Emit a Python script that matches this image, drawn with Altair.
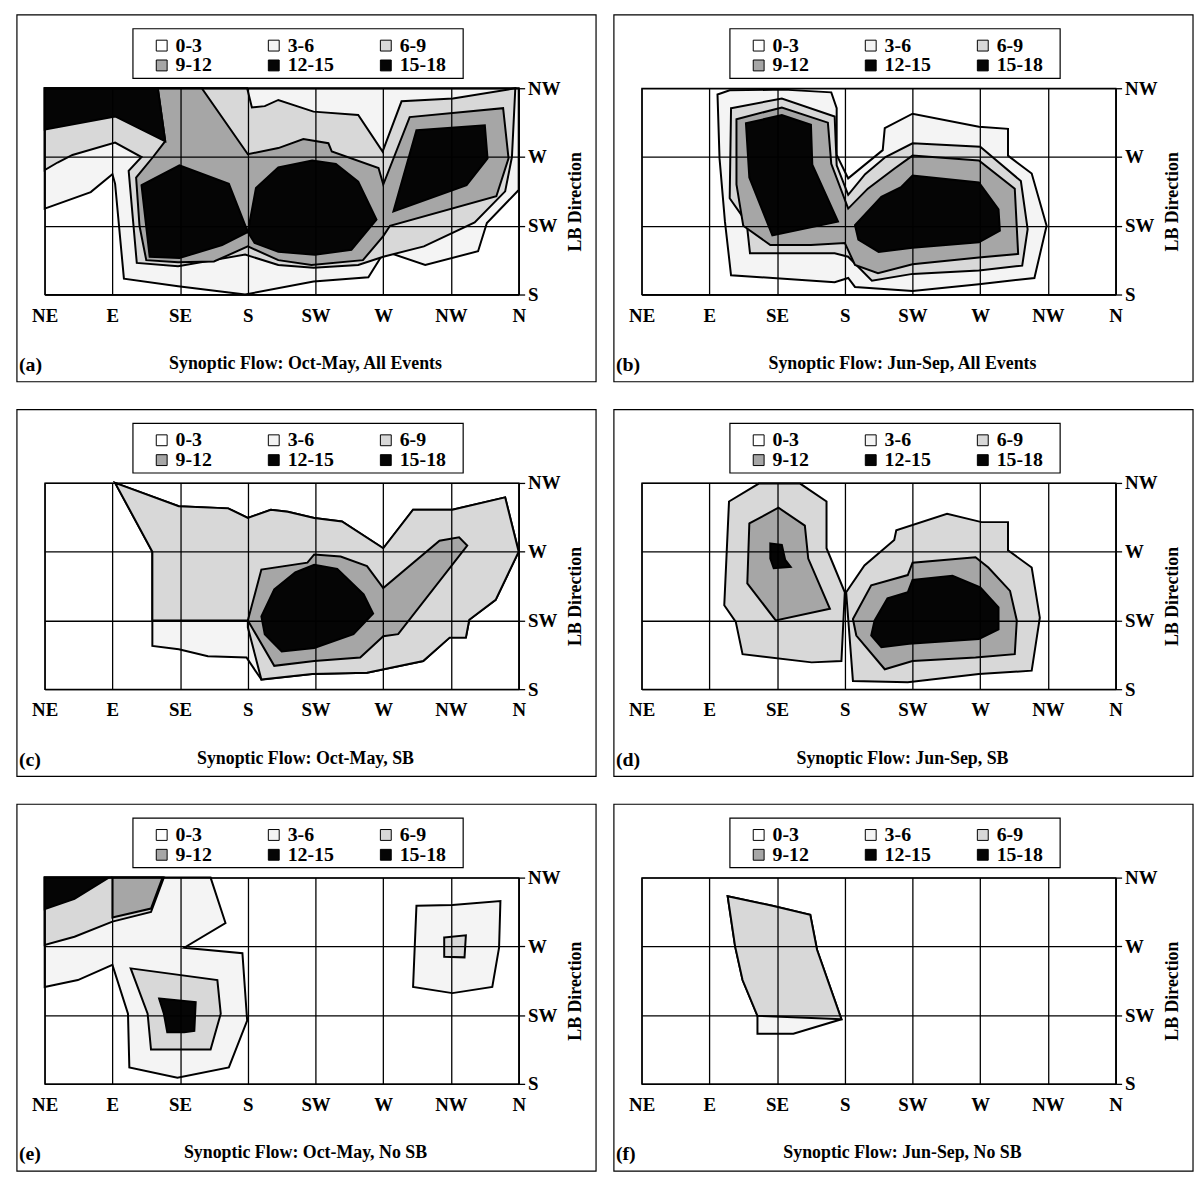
import json
import altair as alt
import pandas as pd

# ---------------- data ----------------
X_LABELS = ["NE", "E", "SE", "S", "SW", "W", "NW", "N"]
Y_LABELS = ["S", "SW", "W", "NW"]
BANDS = ["0-3", "3-6", "6-9", "9-12", "12-15", "15-18"]
BAND_COLORS = ["#ffffff", "#f4f4f4", "#d8d8d8", "#a6a6a6", "#050505", "#050505"]
LEVEL_BAND = {3: "3-6", 6: "6-9", 9: "9-12", 12: "12-15", 15: "15-18"}

TAGS = ["(a)", "(b)", "(c)", "(d)", "(e)", "(f)"]
SUBTITLES = [
    "Synoptic Flow: Oct-May, All Events",
    "Synoptic Flow: Jun-Sep, All Events",
    "Synoptic Flow: Oct-May, SB",
    "Synoptic Flow: Jun-Sep, SB",
    "Synoptic Flow: Oct-May, No SB",
    "Synoptic Flow: Jun-Sep, No SB",
]

# contour polygons (x: 0=NE .. 7=N, y: 0=S .. 3=NW)
A3 = [(0, 3), (7, 3), (7, 1.52), (6.53, 1.04), (6.4, 0.63), (5.62, 0.43), (5.02, 0.63), (4.78, 0.25),
      (3.97, 0.19), (2.96, 0.0), (1.97, 0.12), (1.17, 0.23), (1.04, 1.61), (1.0, 1.75), (0.68, 1.49), (0, 1.25)]
A6 = [(0, 3), (2.99, 3), (3.06, 2.72), (3.25, 2.74), (3.45, 2.83), (3.97, 2.66), (4.63, 2.61), (4.99, 2.08),
      (5.27, 2.81), (6.03, 2.85), (6.95, 3.0), (6.9, 2.0), (6.8, 1.5), (6.35, 1.05), (5.6, 0.7), (5.0, 0.55),
      (4.63, 0.43), (3.97, 0.39), (3.45, 0.43), (2.96, 0.58), (1.97, 0.41), (1.36, 0.46), (1.24, 1.80),
      (1.43, 2.0), (1.04, 2.21), (0.41, 2.03), (0.19, 1.92), (0, 1.81)]
A9 = [(1.67, 3), (2.32, 3), (3.0, 2.04), (3.45, 2.13), (3.82, 2.26), (4.19, 2.2), (4.24, 2.08), (4.93, 1.84),
      (5.0, 1.6), (5.39, 2.58), (6.77, 2.71), (6.85, 1.98), (6.67, 1.43), (5.1, 1.0), (5.0, 0.85), (4.7, 0.5),
      (3.94, 0.43), (3.45, 0.5), (3.0, 0.7), (2.5, 0.48), (1.97, 0.47), (1.5, 0.5), (1.4, 1.0), (1.35, 1.7),
      (1.6, 2.0), (1.78, 2.23)]
A12a = [(0, 3), (1.67, 3), (1.78, 2.23), (1.04, 2.59), (0, 2.40)]
A12b = [(1.43, 1.59), (1.99, 1.88), (2.72, 1.61), (3.0, 0.91), (2.62, 0.72), (1.99, 0.53), (1.55, 0.55)]
A12c = [(3.0, 0.91), (3.12, 1.55), (3.45, 1.85), (3.95, 1.95), (4.3, 1.9), (4.63, 1.64), (4.9, 1.09),
        (4.53, 0.65), (3.99, 0.58), (3.45, 0.62), (3.1, 0.75)]
A12d = [(5.49, 2.39), (6.5, 2.46), (6.54, 1.98), (6.23, 1.59), (5.15, 1.21)]

B3 = [(1.12, 2.91), (1.3, 2.97), (2.1, 2.98), (2.8, 2.94), (2.88, 2.71), (2.88, 2.03), (3.05, 1.69), (3.56, 2.1),
      (3.59, 2.42), (4.0, 2.63), (4.98, 2.44), (5.41, 2.41), (5.41, 2.02), (5.76, 1.76), (5.98, 1.0), (5.8, 0.24),
      (4.98, 0.15), (4.0, 0.05), (3.15, 0.11), (3.05, 0.24), (2.85, 0.18), (1.32, 0.28), (1.23, 1.06), (1.15, 1.98)]
B6 = [(1.32, 2.71), (2.07, 2.85), (2.85, 2.59), (2.88, 1.88), (3.05, 1.45), (3.3, 1.75), (3.6, 2.0), (4.0, 2.2),
      (5.0, 2.15), (5.6, 1.65), (5.7, 0.95), (5.62, 0.42), (4.98, 0.35), (4.0, 0.3), (3.4, 0.2), (3.05, 0.55),
      (2.85, 0.6), (1.6, 0.6), (1.55, 1.05), (1.3, 1.4)]
B9 = [(1.4, 2.55), (2.07, 2.72), (2.75, 2.5), (2.8, 1.9), (3.05, 1.25), (3.34, 1.54), (3.73, 1.83), (4.0, 2.02),
      (4.98, 1.95), (5.51, 1.54), (5.56, 0.59), (4.98, 0.54), (4.0, 0.44), (3.49, 0.31), (3.15, 0.43), (3.0, 0.75),
      (2.5, 0.72), (1.9, 0.72), (1.5, 1.0), (1.4, 1.6)]
B12a = [(1.54, 2.49), (2.07, 2.61), (2.5, 2.47), (2.52, 1.89), (2.9, 1.06), (1.93, 0.86), (1.59, 1.7)]
B12b = [(3.15, 1.01), (3.54, 1.42), (3.83, 1.56), (4.0, 1.73), (4.98, 1.63), (5.27, 1.24), (5.29, 0.93),
        (4.98, 0.76), (4.0, 0.68), (3.5, 0.62), (3.2, 0.8)]

C3 = [(1.04, 3.0), (1.98, 2.66), (2.71, 2.63), (3.0, 2.49), (3.34, 2.61), (3.59, 2.58), (3.98, 2.49), (4.39, 2.44),
      (5.0, 2.05), (5.44, 2.61), (6.02, 2.61), (6.8, 2.79), (7.0, 2.0), (6.66, 1.30), (6.27, 1.01), (6.22, 0.75),
      (5.98, 0.75), (5.59, 0.41), (4.76, 0.24), (3.95, 0.22), (3.2, 0.14), (2.98, 0.46), (2.41, 0.48),
      (1.98, 0.58), (1.59, 0.63), (1.59, 2.0)]
C6 = [(1.04, 3.0), (1.98, 2.66), (2.71, 2.63), (3.0, 2.49), (3.34, 2.61), (3.59, 2.58), (3.98, 2.49), (4.39, 2.44),
      (5.0, 2.05), (5.44, 2.61), (6.02, 2.61), (6.8, 2.79), (7.0, 2.0), (6.66, 1.30), (6.27, 1.01), (6.22, 0.75),
      (5.98, 0.75), (5.59, 0.41), (4.76, 0.24), (3.95, 0.22), (3.2, 0.14), (3.0, 0.9), (3.0, 1.0), (1.59, 1.0),
      (1.59, 2.0)]
C9 = [(3.0, 1.0), (3.2, 1.74), (3.88, 1.84), (3.98, 1.96), (4.37, 1.93), (4.76, 1.79), (5.0, 1.47), (5.83, 2.16),
      (6.12, 2.21), (6.24, 2.09), (5.22, 0.8), (5.0, 0.77), (4.66, 0.46), (3.98, 0.41), (3.39, 0.34)]
C12 = [(3.2, 1.06), (3.39, 1.45), (3.7, 1.7), (3.98, 1.81), (4.32, 1.75), (4.71, 1.38), (4.85, 1.1), (4.56, 0.8),
       (3.98, 0.6), (3.5, 0.55), (3.25, 0.8)]

D6a = [(1.29, 2.73), (1.73, 2.99), (2.34, 2.99), (2.73, 2.73), (2.73, 2.05), (3.0, 1.41), (2.95, 0.41),
       (2.51, 0.39), (1.49, 0.51), (1.39, 0.98), (1.22, 1.22)]
D6b = [(3.02, 1.41), (3.29, 1.8), (3.73, 2.17), (3.76, 2.31), (4.51, 2.55), (5.02, 2.43), (5.41, 2.43),
       (5.41, 2.02), (5.76, 1.77), (5.88, 1.04), (5.76, 0.27), (4.98, 0.22), (3.93, 0.1), (3.12, 0.12)]
D9a = [(1.59, 2.41), (2.02, 2.64), (2.41, 2.38), (2.46, 1.9), (2.78, 1.17), (1.98, 1.0), (1.56, 1.54)]
D9b = [(3.12, 1.02), (3.39, 1.51), (3.93, 1.66), (4.0, 1.84), (4.93, 1.92), (5.12, 1.77), (5.44, 1.43),
       (5.54, 1.0), (5.51, 0.51), (4.93, 0.46), (4.0, 0.41), (3.59, 0.29), (3.17, 0.78)]
D12a = [(1.9, 2.12), (2.07, 2.1), (2.12, 1.88), (2.2, 1.78), (1.95, 1.76), (1.9, 1.9)]
D12b = [(3.44, 1.0), (3.63, 1.32), (3.93, 1.41), (4.0, 1.59), (4.59, 1.65), (5.0, 1.48), (5.27, 1.19),
        (5.27, 0.87), (4.98, 0.73), (3.95, 0.66), (3.54, 0.61), (3.39, 0.78)]

E3a = [(0, 3), (2.45, 3.0), (2.67, 2.34), (2.06, 1.98), (2.92, 1.9), (2.99, 0.92), (2.72, 0.24), (1.96, 0.09),
       (1.25, 0.24), (1.23, 1.02), (1.0, 1.73), (0.49, 1.51), (0, 1.41)]
E3b = [(5.49, 2.59), (6.02, 2.6), (6.73, 2.66), (6.71, 1.98), (6.61, 1.41), (6.02, 1.32), (5.44, 1.41)]
E6a = [(0, 3), (1.76, 3.0), (1.57, 2.5), (1.0, 2.36), (0.44, 2.14), (0, 2.02)]
E6b = [(1.27, 1.68), (2.55, 1.51), (2.6, 1.02), (2.45, 0.5), (1.57, 0.5), (1.52, 1.02)]
E6c = [(5.9, 2.13), (6.22, 2.16), (6.2, 1.84), (5.9, 1.85)]
E9 = [(1.0, 3.0), (1.74, 3.0), (1.57, 2.55), (1.0, 2.42)]
E12a = [(0, 3), (0.95, 3.0), (0.44, 2.69), (0, 2.54)]
E12b = [(1.69, 1.24), (2.23, 1.19), (2.21, 0.77), (2.06, 0.75), (1.81, 0.75), (1.76, 1.02)]

F3 = [(1.27, 2.73), (1.93, 2.59), (2.49, 2.46), (2.59, 1.95), (2.95, 0.94), (2.24, 0.73), (1.71, 0.73),
      (1.71, 0.99), (1.49, 1.51), (1.38, 2.0)]
F6 = [(1.27, 2.73), (1.93, 2.59), (2.49, 2.46), (2.59, 1.95), (2.95, 0.94), (1.71, 0.99), (1.49, 1.51),
      (1.38, 2.0)]

PANEL_POLYS = [
    [(3, A3), (6, A6), (9, A9), (12, A12a), (12, A12b), (12, A12c), (12, A12d)],
    [(3, B3), (6, B6), (9, B9), (12, B12a), (12, B12b)],
    [(3, C3), (6, C6), (9, C9), (12, C12)],
    [(6, D6a), (6, D6b), (9, D9a), (9, D9b), (12, D12a), (12, D12b)],
    [(3, E3a), (3, E3b), (6, E6a), (6, E6b), (6, E6c), (9, E9), (12, E12a), (12, E12b)],
    [(3, F3), (6, F6)],
]

# ---------------- styling ----------------
FONT = "Liberation Serif"
W, H = 478, 208

fill_scale = alt.Scale(domain=BANDS, range=BAND_COLORS)
legend_def = alt.Legend(
    orient="none", legendX=108, legendY=-53, direction="horizontal", columns=3,
    gridAlign="all", columnPadding=42, rowPadding=0, padding=0, title=None,
    symbolType="square", symbolSize=120, symbolStrokeColor="black", symbolStrokeWidth=1,
    symbolOpacity=1, labelFont=FONT, labelFontWeight="bold", labelFontSize=20,
    labelColor="black", labelOffset=4,
)

x_expr = json.dumps(X_LABELS) + "[datum.value]"
y_expr = json.dumps(Y_LABELS) + "[datum.value]"

x_axis = alt.Axis(
    orient="bottom", values=list(range(8)), labelExpr=x_expr, grid=True, gridColor="black",
    gridWidth=1.3, gridOpacity=1, ticks=False, domain=True, domainColor="black", domainWidth=1.3,
    labelFont=FONT, labelFontWeight="bold", labelFontSize=19, labelColor="black", labelPadding=12,
    labelAngle=0, labelFlush=False, labelOverlap=False, zindex=1,
)
y_axis = alt.Axis(
    orient="right", values=list(range(4)), labelExpr=y_expr, grid=True, gridColor="black",
    gridWidth=1.3, gridOpacity=1, ticks=True, tickSize=6, tickColor="black", tickWidth=1.3,
    domain=True, domainColor="black", domainWidth=1.3,
    labelFont=FONT, labelFontWeight="bold", labelFontSize=19, labelColor="black", labelPadding=3,
    labelAlign="left", labelBaseline="middle", labelFlush=False, labelOverlap=False,
    title="LB Direction", titleFont=FONT, titleFontWeight="bold", titleFontSize=18, titleColor="black",
    titleAngle=270, titleX=57, titleY=114, titleAlign="center", titleBaseline="middle", zindex=1,
)

X_ENC = alt.X("x:Q", scale=alt.Scale(domain=[0, 7], nice=False, zero=False), axis=x_axis, title=None)
Y_ENC = alt.Y("y:Q", scale=alt.Scale(domain=[0, 3], nice=False, zero=False), axis=y_axis)
FILL_ENC = alt.Fill("band:N", scale=fill_scale, legend=legend_def)


def make_panel(idx):
    one = pd.DataFrame({"k": [0]})
    frame = alt.Chart(one).mark_rect(fill="transparent", stroke="black", strokeWidth=1.2).encode(
        x=alt.value(-28), x2=alt.value(556), y=alt.value(-74), y2=alt.value(296))
    legbox = alt.Chart(one).mark_rect(fill="white", stroke="black", strokeWidth=1.2).encode(
        x=alt.value(89), x2=alt.value(422), y=alt.value(-60), y2=alt.value(-10))
    layers = [frame, legbox]
    polys = PANEL_POLYS[idx]
    for lvl in [3, 6, 9, 12, 15]:
        recs = []
        for pid, (lv, pts) in enumerate(polys):
            if lv != lvl:
                continue
            for i, (x, y) in enumerate(pts):
                recs.append({"pid": pid, "i": i, "x": x, "y": y, "band": LEVEL_BAND[lvl]})
        if not recs:
            continue
        layers.append(
            alt.Chart(pd.DataFrame(recs)).mark_line(
                interpolate="linear-closed", stroke="black", strokeWidth=2, strokeJoin="miter"
            ).encode(x=X_ENC, y=Y_ENC, order=alt.Order("i:Q"), detail="pid:N", fill=FILL_ENC)
        )
    texts = pd.DataFrame({"sub": [SUBTITLES[idx]], "tag": [TAGS[idx]]})
    sub = alt.Chart(texts).mark_text(
        font=FONT, fontWeight="bold", fontSize=18, align="center", baseline="middle", color="black"
    ).encode(text="sub:N", x=alt.value(263), y=alt.value(278))
    tag = alt.Chart(texts).mark_text(
        font=FONT, fontWeight="bold", fontSize=20, align="left", baseline="middle", color="black"
    ).encode(text="tag:N", x=alt.value(-26), y=alt.value(279))
    layers += [sub, tag]
    return alt.layer(*layers).properties(width=W, height=H)


rows = []
for r in range(3):
    rows.append(
        alt.hconcat(make_panel(2 * r), make_panel(2 * r + 1), spacing=14).resolve_scale(fill="independent")
    )

chart = (
    alt.vconcat(*rows, spacing=24)
    .resolve_scale(fill="independent")
    .properties(padding={"left": 7, "top": 0, "right": 0, "bottom": 0}, background="white")
    .configure_view(stroke="black", strokeWidth=1.3)
)

chart.save("out.html", embed_options={"renderer": "svg", "actions": False})
